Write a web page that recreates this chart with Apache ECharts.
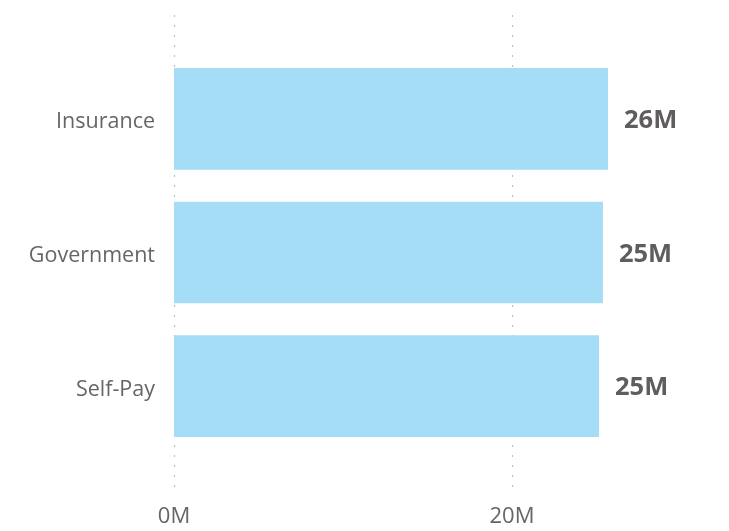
<!DOCTYPE html>
<html>
<head>
<meta charset="utf-8">
<script src="https://cdn.jsdelivr.net/npm/echarts@6/dist/echarts.min.js"></script>
<style>
  html, body { margin: 0; padding: 0; background: #fff; }
  #chart { width: 729px; height: 531px; }
</style>
</head>
<body>
<div id="chart"></div>
<script>
// categories, top to bottom
const categories = ["Insurance", "Government", "Self-Pay"];
// revenue per payer type (in millions)
const values = [25.68, 25.38, 25.15];
// x axis ticks (millions)
const xTicks = [0, 20, 40];

const FONT = "'Open Sans', 'Noto Sans', sans-serif";
const chart = echarts.init(document.getElementById("chart"));

chart.setOption({
  animation: false,
  grid: [
    // background grid: dotted lines + bottom labels
    { left: 174, width: 676, top: 15, height: 480, outerBoundsMode: "none", containLabel: false },
    // bars
    { left: 174, width: 676, top: 52, height: 401, outerBoundsMode: "none", containLabel: false },
  ],
  xAxis: [
    {
      gridIndex: 0,
      type: "value",
      min: xTicks[0],
      max: xTicks[xTicks.length - 1],
      interval: xTicks[1] - xTicks[0],
      axisLine: { show: false },
      axisTick: { show: false },
      axisLabel: {
        color: "#666",
        fontSize: 22,
        fontFamily: FONT,
        margin: 11,
        formatter: (v) => v + "M",
      },
      splitLine: {
        show: true,
        lineStyle: { color: "#bdbdbd", type: [2, 8], width: 1.2 },
      },
    },
    {
      gridIndex: 1,
      type: "value",
      min: xTicks[0],
      max: xTicks[xTicks.length - 1],
      show: false,
    },
  ],
  yAxis: [
    { gridIndex: 0, type: "value", show: false },
    {
      gridIndex: 1,
      type: "category",
      data: categories,
      inverse: true,
      axisLine: { show: false },
      axisTick: { show: false },
      axisLabel: {
        margin: 19,
        formatter: (v) => "{c|" + v + "}",
        rich: {
          c: {
            color: "#666",
            fontSize: 21.5,
            fontFamily: FONT,
            padding: [7, 0, 0, 0],
          },
        },
      },
    },
  ],
  series: [
    {
      type: "bar",
      xAxisIndex: 1,
      yAxisIndex: 1,
      data: values,
      barWidth: "76%",
      itemStyle: { color: "#a4ddf5" },
      label: {
        show: true,
        position: "right",
        distance: 16,
        formatter: (p) => "{v|" + Math.round(p.value) + "M}",
        rich: {
          v: {
            color: "#605e5c",
            fontSize: 25.5,
            fontWeight: "bold",
            fontFamily: FONT,
            padding: [4, 0, 0, 0],
          },
        },
      },
    },
  ],
});
</script>
</body>
</html>
